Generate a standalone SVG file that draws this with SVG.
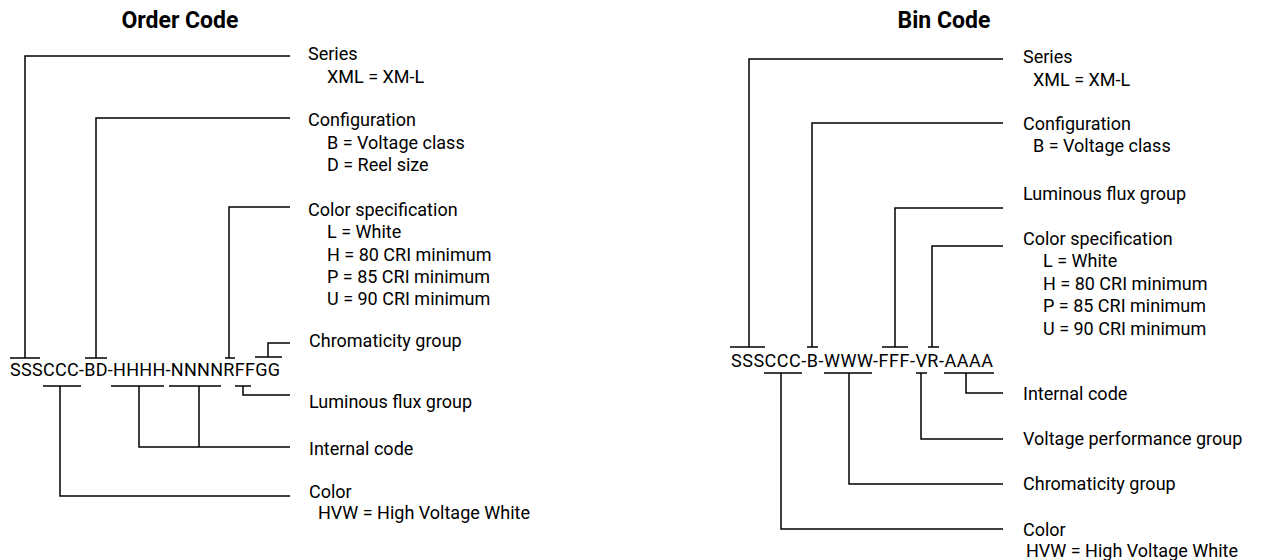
<svg xmlns="http://www.w3.org/2000/svg" width="1274" height="560" viewBox="0 0 1274 560">
<style>
text{font-family:Roboto,"Liberation Sans",Arial,sans-serif;fill:#000;}
.t{font-size:23px;font-weight:bold;text-anchor:middle;}
.l{font-size:18px;}
.c{font-size:18px;}
.w{fill:none;stroke:#000;stroke-width:1.5;}
</style>
<rect width="1274" height="560" fill="#fff"/>
<g id="titles">
<text class="t" x="180" y="28">Order Code</text>
<text class="t" x="944" y="28">Bin Code</text>
</g>
<g id="order-code">
<text class="c" x="10" y="376" textLength="270" lengthAdjust="spacing">SSSCCC-BD-HHHH-NNNNRFFGG</text>
</g>
<g id="order-labels">
<g id="o-series"><text class="l" x="308" y="60">Series</text><text class="l" x="327" y="83">XML = XM-L</text></g>
<g id="o-config"><text class="l" x="308" y="126">Configuration</text><text class="l" x="327" y="148.5">B = Voltage class</text><text class="l" x="327" y="171">D = Reel size</text></g>
<g id="o-colorspec"><text class="l" x="308" y="216">Color specification</text><text class="l" x="327" y="238">L = White</text><text class="l" x="327" y="261">H = 80 CRI minimum</text><text class="l" x="327" y="283">P = 85 CRI minimum</text><text class="l" x="327" y="305">U = 90 CRI minimum</text></g>
<g id="o-chroma"><text class="l" x="309" y="347">Chromaticity group</text></g>
<g id="o-flux"><text class="l" x="309" y="408">Luminous flux group</text></g>
<g id="o-internal"><text class="l" x="309" y="455">Internal code</text></g>
<g id="o-color"><text class="l" x="309" y="498">Color</text><text class="l" x="318" y="519">HVW = High Voltage White</text></g>
</g>
<g id="bin-code">
<text class="c" x="731" y="367" textLength="262" lengthAdjust="spacing">SSSCCC-B-WWW-FFF-VR-AAAA</text>
</g>
<g id="bin-labels">
<g id="b-series"><text class="l" x="1023" y="63">Series</text><text class="l" x="1033" y="86">XML = XM-L</text></g>
<g id="b-config"><text class="l" x="1023" y="130">Configuration</text><text class="l" x="1033" y="152">B = Voltage class</text></g>
<g id="b-flux"><text class="l" x="1023" y="200">Luminous flux group</text></g>
<g id="b-colorspec"><text class="l" x="1023" y="245">Color specification</text><text class="l" x="1043" y="267">L = White</text><text class="l" x="1043" y="290">H = 80 CRI minimum</text><text class="l" x="1043" y="312">P = 85 CRI minimum</text><text class="l" x="1043" y="335">U = 90 CRI minimum</text></g>
<g id="b-internal"><text class="l" x="1023" y="400">Internal code</text></g>
<g id="b-voltage"><text class="l" x="1023" y="445">Voltage performance group</text></g>
<g id="b-chroma"><text class="l" x="1023" y="490">Chromaticity group</text></g>
<g id="b-color"><text class="l" x="1023" y="536">Color</text><text class="l" x="1026" y="557">HVW = High Voltage White</text></g>
</g>
<g id="connectors" class="w">
<path class="w" d="M10 358H40M25 358V56H290"/>
<path class="w" d="M85 358H107M96 358V118H290"/>
<path class="w" d="M225 358H235M229 358V207H290"/>
<path class="w" d="M255 357H282M268 357V343H290"/>
<path class="w" d="M235 386H251M243 386V395H290"/>
<path class="w" d="M111 386H164M139 386V447H290M169 386H221M199 386V447"/>
<path class="w" d="M43 386H81M60 386V496H290"/>
<path class="w" d="M730 347H765M749 347V59H1003"/>
<path class="w" d="M807 347H818M812 347V123H1003"/>
<path class="w" d="M882 347H908M895 347V208H1003"/>
<path class="w" d="M928 347H939M932 347V246H1003"/>
<path class="w" d="M944 373H994M966 373V393H1003"/>
<path class="w" d="M916 373H927M921 373V439H1003"/>
<path class="w" d="M824 373H872M849 373V484H1003"/>
<path class="w" d="M764 373H802M781 373V529H1003"/>
</g>
</svg>
